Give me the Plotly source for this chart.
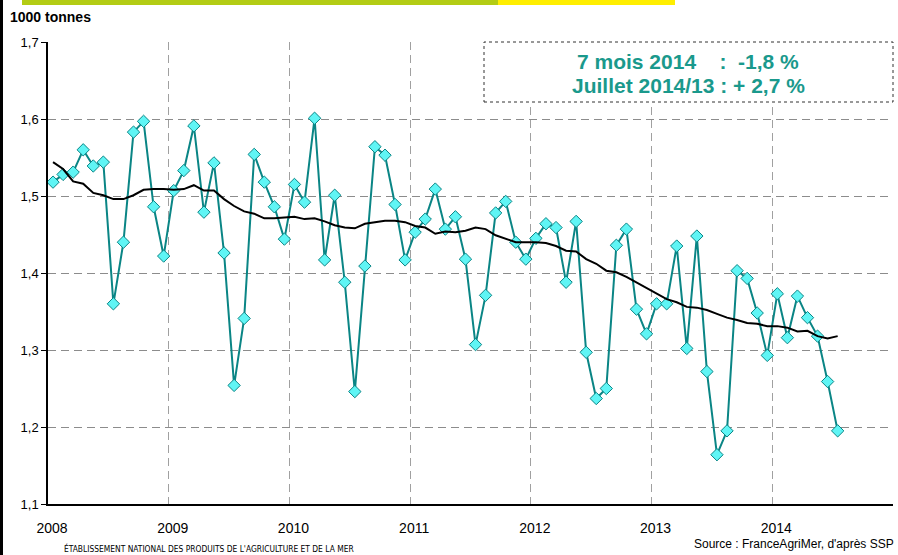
import plotly.graph_objects as go

years = [2008, 2009, 2010, 2011, 2012, 2013, 2014]
tick_labels = ["2008", "2009", "2010", "2011", "2012", "2013", "2014"]

monthly = [
    # 2008
    1.518, 1.528, 1.531, 1.560, 1.539, 1.544, 1.360, 1.440, 1.583, 1.597, 1.486, 1.422,
    # 2009
    1.507, 1.533, 1.591, 1.479, 1.543, 1.426, 1.254, 1.341, 1.554, 1.518, 1.486, 1.444,
    # 2010
    1.515, 1.492, 1.601, 1.417, 1.501, 1.388, 1.246, 1.409, 1.564, 1.553, 1.489, 1.417,
    # 2011
    1.453, 1.470, 1.509, 1.457, 1.473, 1.418, 1.307, 1.371, 1.478, 1.493, 1.440, 1.418,
    # 2012
    1.445, 1.464, 1.459, 1.388, 1.467, 1.297, 1.237, 1.250, 1.436, 1.457, 1.353, 1.321,
    # 2013
    1.360, 1.360, 1.435, 1.302, 1.448, 1.272, 1.164, 1.195, 1.403, 1.393, 1.348, 1.293,
    # 2014
    1.373, 1.316, 1.370, 1.342, 1.318, 1.259, 1.195,
]

moving_avg = [
    # 2008
    1.544, 1.535, 1.519, 1.516, 1.504, 1.501, 1.496, 1.496, 1.501, 1.508, 1.509, 1.509,
    # 2009
    1.508, 1.509, 1.514, 1.507, 1.507, 1.496, 1.487, 1.480, 1.477, 1.471, 1.471, 1.472,
    # 2010
    1.473, 1.470, 1.471, 1.467, 1.462, 1.459, 1.458, 1.464, 1.466, 1.468, 1.468, 1.466,
    # 2011
    1.461, 1.459, 1.451, 1.454, 1.453, 1.455, 1.459, 1.457, 1.449, 1.444, 1.440, 1.440,
    # 2012
    1.440, 1.439, 1.435, 1.429, 1.428, 1.418, 1.412, 1.403, 1.401, 1.395, 1.388, 1.380,
    # 2013
    1.373, 1.366, 1.362, 1.356, 1.355, 1.352, 1.347, 1.342, 1.339, 1.335, 1.334, 1.331,
    # 2014
    1.331, 1.329, 1.324, 1.325, 1.318, 1.315, 1.318,
]

# month positions (centred in each month)
xpos = [2008 + (i + 0.5) / 12 for i in range(len(monthly))]

W, H = 898, 555
ML, MR, MT, MB = 48, 5, 42, 51
PW, PH = W - ML - MR, H - MT - MB


def px(x):
    return (x - ML) / PW


def py(y):
    return (H - MB - y) / PH


fig = go.Figure()

fig.add_trace(go.Scatter(
    x=xpos, y=monthly, mode="lines+markers",
    line=dict(color="#0a8585", width=2),
    marker=dict(symbol="diamond", size=9.5, color="#5ff5f5",
                line=dict(color="#0a8585", width=1)),
    showlegend=False, hoverinfo="x+y"))

fig.add_trace(go.Scatter(
    x=xpos, y=moving_avg, mode="lines",
    line=dict(color="black", width=2),
    showlegend=False, hoverinfo="x+y"))

shapes = [
    # left black border
    dict(type="rect", xref="paper", yref="paper", x0=px(0), x1=px(3),
         y0=py(555), y1=py(0), fillcolor="black", line=dict(width=0), layer="above"),
    # top green/yellow bars
    dict(type="rect", xref="paper", yref="paper", x0=px(22), x1=px(498),
         y0=py(5), y1=py(0), fillcolor="#b3cc14", line=dict(width=0)),
    dict(type="rect", xref="paper", yref="paper", x0=px(498), x1=px(675),
         y0=py(5), y1=py(0), fillcolor="#ffee00", line=dict(width=0)),
    # annotation box
    dict(type="rect", xref="paper", yref="paper", x0=px(484), x1=px(893),
         y0=py(102), y1=py(42), fillcolor="white",
         line=dict(color="#333333", width=1, dash="dot"), layer="above"),
]

annotations = [
    dict(text="<b>1000 tonnes</b>", xref="paper", yref="paper", x=px(8), y=py(17),
         xanchor="left", yanchor="middle", showarrow=False,
         font=dict(size=14, color="black", family="Liberation Sans, Arial")),
    dict(text="<b>7 mois 2014    :  -1,8 %</b>", xref="paper", yref="paper",
         x=px(688), y=py(61), xanchor="center", yanchor="middle", showarrow=False,
         font=dict(size=21, color="#1a998c", family="Liberation Sans, Arial")),
    dict(text="<b>Juillet 2014/13 : + 2,7 %</b>", xref="paper", yref="paper",
         x=px(688), y=py(85), xanchor="center", yanchor="middle", showarrow=False,
         font=dict(size=21, color="#1a998c", family="Liberation Sans, Arial")),
    dict(text="ÉTABLISSEMENT NATIONAL DES PRODUITS DE L'AGRICULTURE ET DE LA MER",
         xref="paper", yref="paper", x=px(62), y=py(548), xanchor="left",
         yanchor="middle", showarrow=False,
         font=dict(size=8.4, color="black",
                   family="Liberation Sans Narrow, DejaVu Sans Condensed, Arial Narrow, sans-serif")),
    dict(text="Source : FranceAgriMer, d'après SSP", xref="paper", yref="paper",
         x=px(896), y=py(544), xanchor="right", yanchor="middle", showarrow=False,
         font=dict(size=12, color="black", family="Liberation Sans, Arial")),
]

fig.update_layout(
    width=W, height=H,
    margin=dict(l=ML, r=MR, t=MT, b=MB, pad=0),
    paper_bgcolor="white", plot_bgcolor="white",
    separators=", ",
    font=dict(family="Liberation Sans, Arial", size=13, color="black"),
    shapes=shapes, annotations=annotations,
    xaxis=dict(range=[2008, 2015], tickvals=years, ticktext=tick_labels,
               showgrid=True, gridcolor="#a0a0a0", griddash="8px,5px", gridwidth=1,
               showline=True, linecolor="black", linewidth=1.5,
               ticks="", zeroline=False, ticklabelshift=4, ticklabelstandoff=10,
               tickfont=dict(size=14)),
    yaxis=dict(range=[1.1, 1.7], dtick=0.1, tick0=1.1, tickformat=".1f",
               showgrid=True, gridcolor="#8c8c8c", griddash="8px,5px", gridwidth=1,
               showline=True, linecolor="black", linewidth=1.5,
               ticks="outside", ticklen=5, tickcolor="black", zeroline=False,
               tickfont=dict(size=13)),
)

fig.write_html("out.html", config={"displayModeBar": False},
               post_script="document.body.style.margin='0px';document.body.style.padding='0px';")
